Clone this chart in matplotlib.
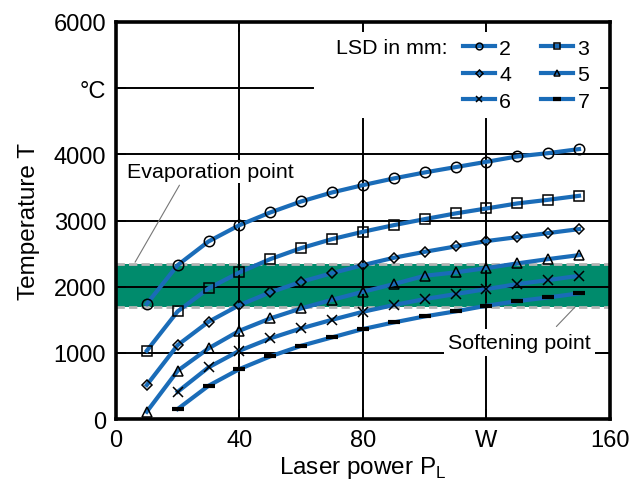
import matplotlib
matplotlib.use('Agg')
import matplotlib.pyplot as plt

plt.rcParams['font.family'] = ['Liberation Sans', 'DejaVu Sans']
plt.rcParams['mathtext.fontset'] = 'custom'
plt.rcParams['mathtext.rm'] = 'Liberation Sans'

# laser power in W
power = [10, 20, 30, 40, 50, 60, 70, 80, 90, 100, 110, 120, 130, 140, 150]

# temperature in degC for each laser spot distance (LSD, mm)
temp_lsd2 = [1740, 2326, 2684, 2930, 3122, 3288, 3424, 3535, 3636, 3726, 3807, 3887, 3968, 4018, 4079]
temp_lsd3 = [1032, 1627, 1974, 2216, 2417, 2583, 2719, 2830, 2930, 3021, 3107, 3182, 3258, 3313, 3373]
temp_lsd4 = [514, 1118, 1470, 1722, 1914, 2074, 2205, 2326, 2437, 2527, 2608, 2689, 2749, 2810, 2870]
temp_lsd5 = [110, 730, 1068, 1334, 1521, 1672, 1802, 1923, 2039, 2165, 2216, 2281, 2352, 2417, 2477]
temp_lsd6 = [412, 781, 1032, 1219, 1370, 1500, 1621, 1722, 1813, 1888, 1964, 2039, 2100, 2165]
temp_lsd7 = [151, 503, 755, 947, 1107, 1234, 1360, 1460, 1551, 1627, 1712, 1782, 1838, 1899]

softening_point = 1700
evaporation_point = 2340

blue = '#1a6cb8'
green = '#008b6c'

fig = plt.figure(figsize=(6.44, 4.89), dpi=100)
ax = fig.add_axes([0.180, 0.141, 0.767, 0.812])

# grid lines, some cut short where the legend sits
for y in [1000, 2000, 3000, 4000]:
    ax.axhline(y, color='black', lw=1.4, zorder=1.5)
ax.axhline(5000, xmax=0.40, color='black', lw=1.4, zorder=1.5)
ax.axvline(40, color='black', lw=1.4, zorder=1.5)
for x in [80, 120]:
    ax.axvline(x, ymax=0.756, color='black', lw=1.4, zorder=1.5)

# band between softening and evaporation point
ax.axhspan(softening_point, evaporation_point, color=green, lw=0, zorder=1)
for y in [softening_point, evaporation_point]:
    ax.axhline(y, color='#b4b4b4', lw=2, ls=(0, (3, 1.5)), zorder=1.2)

style = dict(color=blue, lw=3, mec='black', mfc='none', mew=1.1, ms=7.5, zorder=2)
h2, = ax.plot(power, temp_lsd2, marker='o', label='2', **style)
h3, = ax.plot(power, temp_lsd3, marker='s', label='3', **dict(style, ms=7))
h4, = ax.plot(power, temp_lsd4, marker='D', label='4', **dict(style, ms=5.5))
h5, = ax.plot(power, temp_lsd5, marker='^', label='5', **style)
h6, = ax.plot(power[1:], temp_lsd6, marker='x', label='6', **style)
h7, = ax.plot(power[1:], temp_lsd7, marker='_', label='7', **dict(style, mew=3, ms=8))

ax.text(0.445, 0.935, 'LSD in mm:', transform=ax.transAxes, fontsize=15.4,
        ha='left', va='center')
leg = ax.legend([h2, h4, h6, h3, h5, h7], ['2', '4', '6', '3', '5', '7'],
                ncol=2, loc='upper right', bbox_to_anchor=(0.985, 0.99),
                frameon=False, fontsize=15.4, handlelength=1.5,
                handletextpad=0.2, columnspacing=1.4, labelspacing=0.35,
                markerscale=0.65, borderaxespad=0.2)
leg.set_zorder(2.2)

# annotations for the two limits
ax.annotate('Evaporation point', xy=(6.2, 2370), xytext=(3.6, 3746),
            fontsize=15.4, ha='left', va='center',
            bbox=dict(fc='white', ec='none', pad=1.5),
            arrowprops=dict(arrowstyle='-', color='#777777', lw=0.8,
                            relpos=(0.33, 0.0), shrinkA=2, shrinkB=0))
ax.annotate('Softening point', xy=(148.7, 1692), xytext=(107.5, 1163),
            fontsize=15.4, ha='left', va='center',
            bbox=dict(fc='white', ec='none', pad=3),
            arrowprops=dict(arrowstyle='-', color='#777777', lw=0.8,
                            relpos=(0.72, 1.0), shrinkA=2, shrinkB=0))

ax.set_xlim(0, 160)
ax.set_ylim(0, 6000)
ax.set_xticks([0, 40, 80, 120, 160])
ax.set_xticklabels(['0', '40', '80', 'W', '160'])
ax.set_yticks([0, 1000, 2000, 3000, 4000, 5000, 6000])
ax.set_yticklabels(['0', '1000', '2000', '3000', '4000', '°C', '6000'])
ax.tick_params(direction='in', length=7, width=1.4, labelsize=17,
               top=True, right=True, pad=7)

for sp in ax.spines.values():
    sp.set_linewidth(2.6)
    sp.set_zorder(3)

ax.set_xlabel('Laser power P$_\\mathregular{L}$', fontsize=17.5, labelpad=2)
ax.set_ylabel('Temperature T', fontsize=17.5, labelpad=10)

fig.savefig('out.png', dpi=100)
